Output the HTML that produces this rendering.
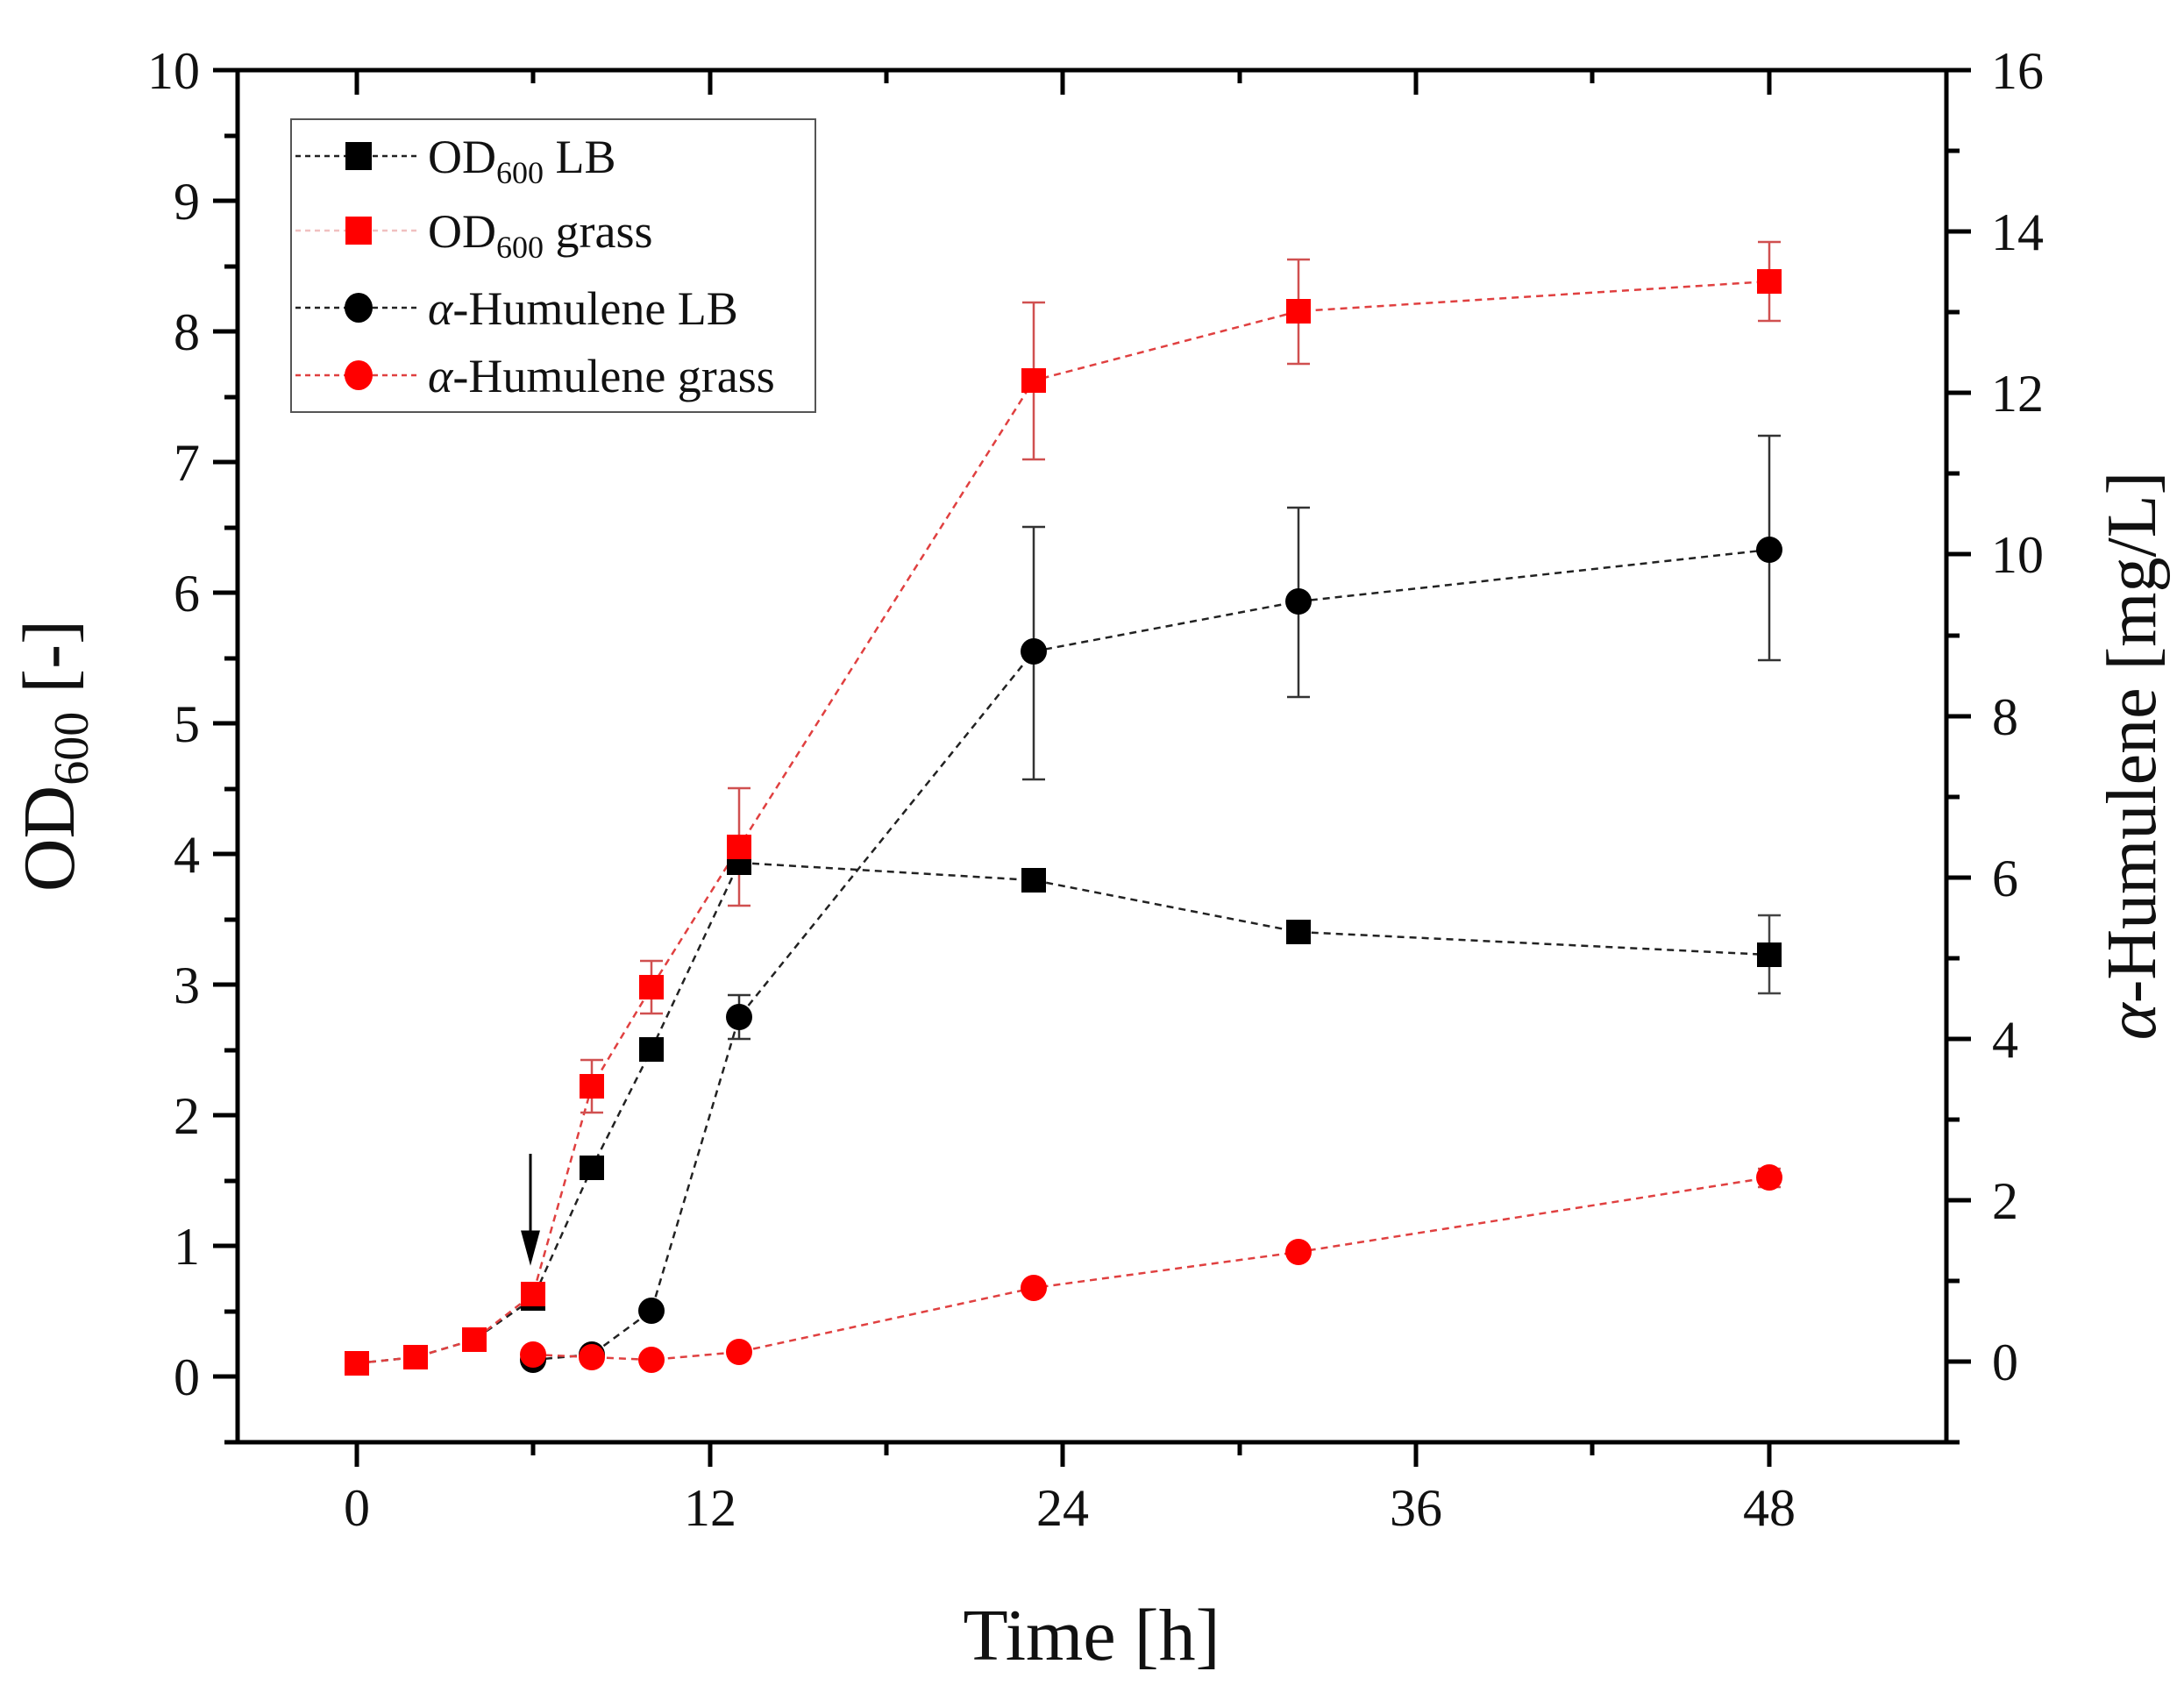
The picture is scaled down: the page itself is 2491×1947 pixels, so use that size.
<!DOCTYPE html>
<html><head><meta charset="utf-8"><style>html,body{margin:0;padding:0;background:#fff}svg{display:block}</style></head>
<body>
<svg width="2491" height="1947" viewBox="0 0 2491 1947" xmlns="http://www.w3.org/2000/svg" font-family="Liberation Serif, serif">
<rect width="2491" height="1947" fill="#fff"/>
<g stroke="#000" stroke-width="5" fill="none">
<rect x="271" y="80" width="1949" height="1565"/>
<path d="M243 1570H271M243 1421H271M243 1272H271M243 1123H271M243 974H271M243 825H271M243 676H271M243 527H271M243 378H271M243 229H271M243 80H271"/>
<path d="M256 1645H271M256 1496H271M256 1347H271M256 1198H271M256 1049H271M256 900H271M256 751H271M256 602H271M256 453H271M256 304H271M256 155H271"/>
<path d="M2220 1553H2248M2220 1369H2248M2220 1185H2248M2220 1001H2248M2220 817H2248M2220 632H2248M2220 448H2248M2220 264H2248M2220 80H2248"/>
<path d="M2220 1645H2235M2220 1461H2235M2220 1277H2235M2220 1093H2235M2220 909H2235M2220 725H2235M2220 540H2235M2220 356H2235M2220 172H2235"/>
<path d="M407 1645V1673M810 1645V1673M1212 1645V1673M1615 1645V1673M2018 1645V1673"/>
<path d="M608 1645V1660M1011 1645V1660M1414 1645V1660M1816 1645V1660"/>
<path d="M407 80V108M810 80V108M1212 80V108M1615 80V108M2018 80V108"/>
<path d="M608 80V95M1011 80V95M1414 80V95M1816 80V95"/>
</g>
<g font-size="60" fill="#111" text-anchor="end">
<text x="228" y="1591">0</text><text x="228" y="1442">1</text><text x="228" y="1293">2</text><text x="228" y="1144">3</text><text x="228" y="995">4</text><text x="228" y="846">5</text><text x="228" y="697">6</text><text x="228" y="548">7</text><text x="228" y="399">8</text><text x="228" y="250">9</text><text x="228" y="101">10</text>
</g>
<g font-size="60" fill="#111" text-anchor="middle">
<text x="2287" y="1574">0</text><text x="2287" y="1390">2</text><text x="2287" y="1206">4</text><text x="2287" y="1022">6</text><text x="2287" y="838">8</text><text x="2301" y="653">10</text><text x="2301" y="469">12</text><text x="2301" y="285">14</text><text x="2301" y="101">16</text>
<text x="407" y="1740">0</text><text x="810" y="1740">12</text><text x="1212" y="1740">24</text><text x="1615" y="1740">36</text><text x="2018" y="1740">48</text>
</g>
<text x="1245" y="1893" font-size="84" text-anchor="middle" fill="#111">Time [h]</text>
<text transform="translate(84,862) rotate(-90)" font-size="84" text-anchor="middle" fill="#111">OD<tspan font-size="56" dy="16">600</tspan><tspan dy="-16"> [-]</tspan></text>
<text transform="translate(2458,862) rotate(-90)" font-size="80" text-anchor="middle" fill="#111"><tspan font-style="italic">α</tspan>-Humulene [mg/L]</text>

<g fill="none" stroke-width="2.5" stroke-dasharray="8,6">
<polyline stroke="#222" points="407,1555 474,1548 541,1528 608,1481 675,1332 743,1197 843,984 1179,1004 1481,1063 2018,1089"/>
<polyline stroke="#e04040" points="407,1555 474,1548 541,1528 608,1476 675,1239 743,1126 843,966 1179,434 1481,355 2018,321"/>
<polyline stroke="#222" points="608,1551 675,1545 743,1495 843,1160 1179,743 1481,686 2018,627"/>
<polyline stroke="#e04040" points="608,1545 675,1548 743,1551 843,1542 1179,1469 1481,1428 2018,1343"/>
</g>
<g stroke-width="2.5" fill="none">
<path stroke="#444" d="M2018 1044V1133M2005 1044H2031M2005 1133H2031"/>
<path stroke="#d05050" d="M675 1209V1269M662 1209H688M662 1269H688M743 1096V1156M730 1096H756M730 1156H756M843 899V1033M830 899H856M830 1033H856M1179 345V524M1166 345H1192M1166 524H1192M1481 296V415M1468 296H1494M1468 415H1494M2018 276V366M2005 276H2031M2005 366H2031M2018 1333V1354M2005 1333H2031M2005 1354H2031"/>
<path stroke="#333" d="M843 1135V1185M830 1135H856M830 1185H856M1179 601V889M1166 601H1192M1166 889H1192M1481 579V795M1468 579H1494M1468 795H1494M2018 497V753M2005 497H2031M2005 753H2031"/>
</g>
<g fill="#000">
<rect x="393" y="1541" width="28" height="28"/><rect x="460" y="1534" width="28" height="28"/><rect x="527" y="1514" width="28" height="28"/><rect x="594" y="1467" width="28" height="28"/><rect x="661" y="1318" width="28" height="28"/><rect x="729" y="1183" width="28" height="28"/><rect x="829" y="970" width="28" height="28"/><rect x="1165" y="990" width="28" height="28"/><rect x="1467" y="1049" width="28" height="28"/><rect x="2004" y="1075" width="28" height="28"/>
</g>
<g fill="#f00">
<rect x="393" y="1541" width="28" height="28"/><rect x="460" y="1534" width="28" height="28"/><rect x="527" y="1514" width="28" height="28"/><rect x="594" y="1462" width="28" height="28"/><rect x="661" y="1225" width="28" height="28"/><rect x="729" y="1112" width="28" height="28"/><rect x="829" y="952" width="28" height="28"/><rect x="1165" y="420" width="28" height="28"/><rect x="1467" y="341" width="28" height="28"/><rect x="2004" y="307" width="28" height="28"/>
</g>
<g fill="#000">
<circle cx="608" cy="1551" r="15"/><circle cx="675" cy="1545" r="15"/><circle cx="743" cy="1495" r="15"/><circle cx="843" cy="1160" r="15"/><circle cx="1179" cy="743" r="15"/><circle cx="1481" cy="686" r="15"/><circle cx="2018" cy="627" r="15"/>
</g>
<g fill="#f00">
<circle cx="608" cy="1545" r="15"/><circle cx="675" cy="1548" r="15"/><circle cx="743" cy="1551" r="15"/><circle cx="843" cy="1542" r="15"/><circle cx="1179" cy="1469" r="15"/><circle cx="1481" cy="1428" r="15"/><circle cx="2018" cy="1343" r="15"/>
</g>
<g stroke="#000" stroke-width="3" fill="#000">
<line x1="605" y1="1316" x2="605" y2="1420"/>
<path d="M596 1405L605 1438L614 1405Z"/>
</g>
<rect x="332" y="136" width="598" height="334" fill="#fff" stroke="#555" stroke-width="2"/>
<g stroke-width="2.5" stroke-dasharray="6,5">
<line x1="337" y1="178" x2="478" y2="178" stroke="#222"/>
<line x1="337" y1="263" x2="478" y2="263" stroke="#f0c0c0"/>
<line x1="337" y1="351" x2="478" y2="351" stroke="#222"/>
<line x1="337" y1="428" x2="478" y2="428" stroke="#e04040"/>
</g>
<rect x="394" y="162" width="30" height="32" fill="#000"/>
<rect x="394" y="247" width="30" height="32" fill="#f00"/>
<ellipse cx="409" cy="351" rx="16" ry="17" fill="#000"/>
<ellipse cx="409" cy="428" rx="16" ry="17" fill="#f00"/>
<g font-size="54" fill="#111">
<text x="488" y="197">OD<tspan font-size="36" dy="12">600</tspan><tspan dy="-12"> LB</tspan></text>
<text x="488" y="282">OD<tspan font-size="36" dy="12">600</tspan><tspan dy="-12"> grass</tspan></text>
<text x="488" y="370"><tspan font-style="italic">α</tspan>-Humulene LB</text>
<text x="488" y="447"><tspan font-style="italic">α</tspan>-Humulene grass</text>
</g>
</svg>
</body></html>
